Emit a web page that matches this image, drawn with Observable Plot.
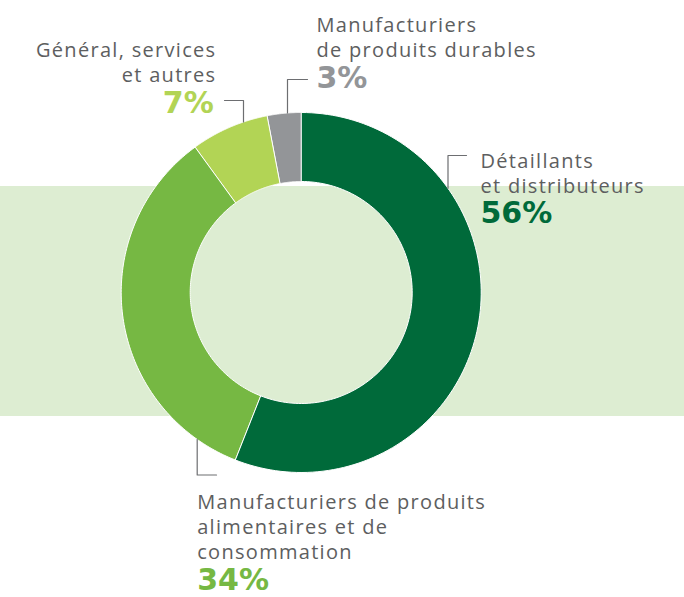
<!DOCTYPE html>
<html>
<head>
<meta charset="utf-8">
<script src="https://cdn.jsdelivr.net/npm/d3@7"></script>
<script src="https://cdn.jsdelivr.net/npm/@observablehq/plot@0.6"></script>
<style>
  html, body { margin: 0; padding: 0; background: #fff; }
  #chart svg { display: block; }
</style>
</head>
<body>
<div id="chart"></div>
<script>
// ---- data ----
const categories = [
  "Détaillants et distributeurs",
  "Manufacturiers de produits alimentaires et de consommation",
  "Général, services et autres",
  "Manufacturiers de produits durables"
];
const shares = [56, 34, 7, 3];
const labelLines = [
  "Détaillants\net distributeurs",
  "Manufacturiers de produits\nalimentaires et de\nconsommation",
  "Général, services\net autres",
  "Manufacturiers\nde produits durables"
];
const percentLabels = ["56%", "34%", "7%", "3%"];

// ---- styles / layout ----
const colors = ["#006a3a", "#76b843", "#b2d455", "#939598"];
const bandColor = "#ddedd2";
const textColor = "#5d5e60";
const W = 684, H = 597;
const cx = 300.7, cy = 292, R = 180, r0 = 111;
// leader: vertical x, elbow y, hook end x ; label: x, top of first line, anchor, percent top
const layout = [
  {lx: 447.5, ey: 155, hx: 466, tx: 480, ty: 149.3, anchor: "start", py: 201.5},
  {lx: 196.7, ey: 474.5, hx: 216, tx: 196.7, ty: 490.5, anchor: "start", py: 568.5},
  {lx: 243, ey: 100, hx: 224, tx: 214.6, ty: 38.3, anchor: "end", py: 91.5},
  {lx: 287, ey: 79, hx: 307, tx: 316, ty: 14, anchor: "start", py: 66.5}
];

// ---- slices from d3.pie ----
const pie = d3.pie().sort(null).value(d => d)(shares);
const slicePts = [];
pie.forEach((p, i) => {
  const n = 120;
  for (let k = 0; k <= n; k++) {
    const a = p.startAngle + (p.endAngle - p.startAngle) * k / n;
    slicePts.push({i, x: cx + R * Math.sin(a), y: cy - R * Math.cos(a)});
  }
  for (let k = n; k >= 0; k--) {
    const a = p.startAngle + (p.endAngle - p.startAngle) * k / n;
    slicePts.push({i, x: cx + r0 * Math.sin(a), y: cy - r0 * Math.cos(a)});
  }
});

// ---- leaders ----
const leaderPts = [];
layout.forEach((l, i) => {
  const dx = l.lx - cx;
  const dy = Math.sqrt(R * R - dx * dx);
  const sy = l.ey < cy ? cy - dy : cy + dy;
  leaderPts.push({i, x: l.lx, y: sy}, {i, x: l.lx, y: l.ey}, {i, x: l.hx, y: l.ey});
});

const labels = categories.map((c, i) => ({i, text: labelLines[i], x: layout[i].tx, y: layout[i].ty, anchor: layout[i].anchor}));
const pcts = categories.map((c, i) => ({i, text: percentLabels[i], x: layout[i].tx, y: layout[i].py, anchor: layout[i].anchor}));

const chart = Plot.plot({
  width: W,
  height: H,
  margin: 0,
  x: {domain: [0, W], range: [0, W], axis: null},
  y: {domain: [0, H], range: [0, H], axis: null},
  style: {fontFamily: "'Open Sans', sans-serif", background: "#fff"},
  marks: [
    Plot.rect([{x1: 0, x2: W, y1: 186, y2: 416}], {x1: "x1", x2: "x2", y1: "y1", y2: "y2", fill: bandColor}),
    ...categories.map((c, i) => Plot.line(slicePts.filter(d => d.i === i), {
      x: "x", y: "y", fill: colors[i], stroke: "white", strokeWidth: 1, curve: "linear-closed"
    })),
    ...categories.map((c, i) => Plot.line(leaderPts.filter(d => d.i === i), {
      x: "x", y: "y", stroke: "#6d6e71", strokeWidth: 1.2
    })),
    ...labels.map(d => Plot.text([d], {
      x: d.anchor === "end" ? (e => e.x + 1.3) : "x", y: "y", text: "text", textAnchor: d.anchor, lineAnchor: "top",
      fontSize: 20, lineHeight: 1.25, fill: textColor
    })),
    ...pcts.map(d => Plot.text([d], {
      x: d.anchor === "end" ? (e => e.x - 1.3) : "x", y: "y", text: "text", textAnchor: d.anchor, lineAnchor: "top",
      fontSize: 30, fontWeight: 700, fill: colors[d.i], fontFamily: "'DejaVu Sans', sans-serif"
    }))
  ]
});
// letter-spacing for the category label texts
d3.select(chart).selectAll("g").filter(function() { return this.getAttribute("fill") === textColor; })
  .selectAll("text, tspan").style("letter-spacing", "1.3px");
document.getElementById("chart").appendChild(chart);
</script>
</body>
</html>
